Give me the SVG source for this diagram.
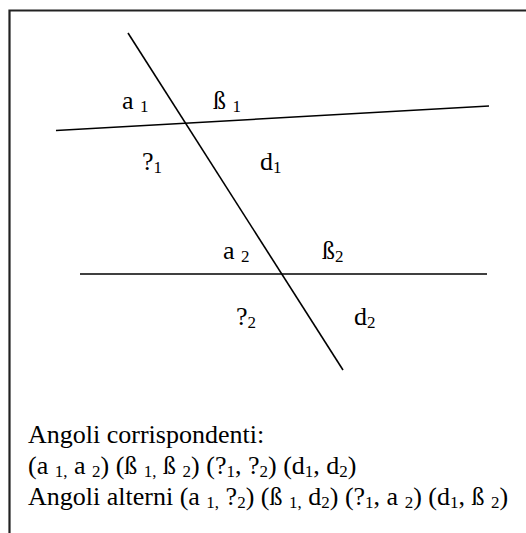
<svg xmlns="http://www.w3.org/2000/svg" width="526" height="533" viewBox="0 0 526 533">
<style>
text{font-family:'Liberation Serif','Times New Roman',serif;font-size:26px;fill:#000}
.s{font-size:17px}
.ln{stroke:#000;stroke-width:1.6;fill:none}
.fr{stroke:#222;stroke-width:2.2;fill:none}
</style>
<rect width="526" height="533" fill="#fff"/>
<path class="fr" d="M526 10.5H9.5V533"/>
<g id="connectors">
<line class="ln" x1="56" y1="130.5" x2="489" y2="106"/>
<line class="ln" x1="80" y1="274" x2="487" y2="274"/>
<line class="ln" x1="128" y1="33" x2="343" y2="370"/>
</g>
<g id="a1"><text x="122" y="109">a <tspan class="s" dy="3">1</tspan></text></g>
<g id="b1"><text x="213" y="109">ß <tspan class="s" dy="3">1</tspan></text></g>
<g id="g1"><text x="142" y="170">?<tspan class="s" dy="3">1</tspan></text></g>
<g id="d1"><text x="260" y="170">d<tspan class="s" dy="3">1</tspan></text></g>
<g id="a2"><text x="223" y="259">a <tspan class="s" dy="3">2</tspan></text></g>
<g id="b2"><text x="322" y="259">ß<tspan class="s" dy="3">2</tspan></text></g>
<g id="g2"><text x="236" y="325">?<tspan class="s" dy="3">2</tspan></text></g>
<g id="d2"><text x="354" y="325">d<tspan class="s" dy="3">2</tspan></text></g>
<g id="legend">
<text x="28" y="443">Angoli corrispondenti:</text>
<text x="28" y="474">(a <tspan class="s" dy="3">1,</tspan><tspan dy="-3"> a </tspan><tspan class="s" dy="3">2</tspan><tspan dy="-3">) (ß </tspan><tspan class="s" dy="3">1,</tspan><tspan dy="-3"> ß </tspan><tspan class="s" dy="3">2</tspan><tspan dy="-3">) (?</tspan><tspan class="s" dy="3">1</tspan><tspan dy="-3">, ?</tspan><tspan class="s" dy="3">2</tspan><tspan dy="-3">) (d</tspan><tspan class="s" dy="3">1</tspan><tspan dy="-3">, d</tspan><tspan class="s" dy="3">2</tspan><tspan dy="-3">)</tspan></text>
<text x="28" y="505">Angoli alterni (a <tspan class="s" dy="3">1,</tspan><tspan dy="-3"> ?</tspan><tspan class="s" dy="3">2</tspan><tspan dy="-3">) (ß </tspan><tspan class="s" dy="3">1,</tspan><tspan dy="-3"> d</tspan><tspan class="s" dy="3">2</tspan><tspan dy="-3">) (?</tspan><tspan class="s" dy="3">1</tspan><tspan dy="-3">, a </tspan><tspan class="s" dy="3">2</tspan><tspan dy="-3">) (d</tspan><tspan class="s" dy="3">1</tspan><tspan dy="-3">, ß </tspan><tspan class="s" dy="3">2</tspan><tspan dy="-3">)</tspan></text>
</g>
</svg>
